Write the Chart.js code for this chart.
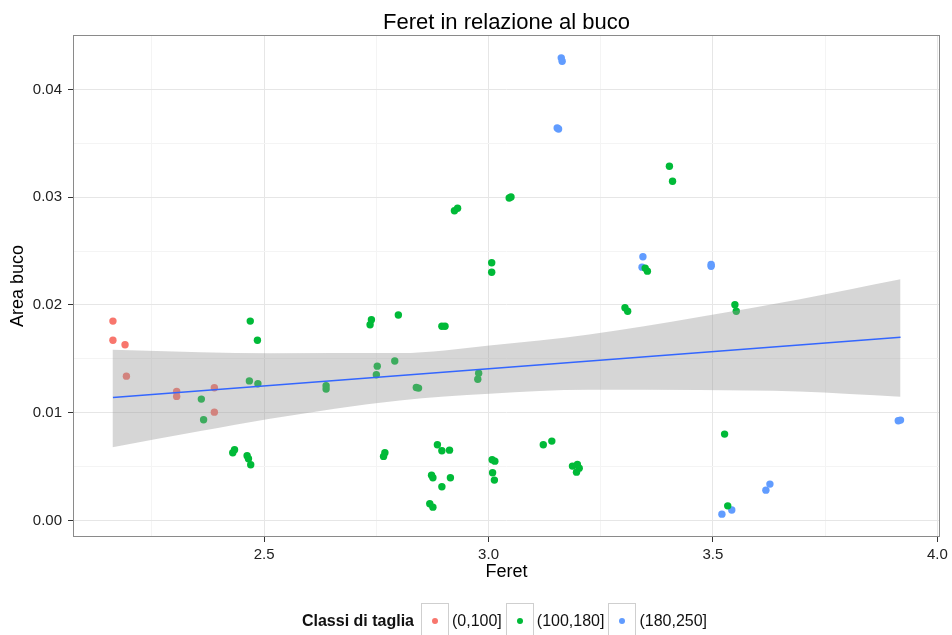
<!DOCTYPE html>
<html>
<head>
<meta charset="utf-8">
<title>Feret in relazione al buco</title>
<script src="https://cdn.jsdelivr.net/npm/chart.js@4.4.1/dist/chart.umd.min.js"></script>
<style>
  body { margin: 0; background: #fff; font-family: "Liberation Sans", Arial, sans-serif; }
  #wrap { position: relative; width: 952px; height: 635px; overflow: hidden; }
  #legend {
    position: absolute; left: 73px; width: 867px; top: 603px;
    display: flex; justify-content: center; align-items: center;
    font-size: 16px; color: #111;
  }
  #legend .title { font-weight: bold; margin-right: 7px; }
  #legend .key {
    width: 26px; height: 34px; border: 1px solid #cfcfcf; box-sizing: content-box;
    display: flex; align-items: center; justify-content: center;
  }
  #legend .dot { width: 6px; height: 6px; border-radius: 50%; }
  #legend .label { margin-left: 3px; margin-right: 4px; }
</style>
</head>
<body>
<div id="wrap">
  <canvas id="chart"></canvas>
  <div id="legend"></div>
</div>
<script>
// size classes and their colours
const sizeClasses = ["(0,100]", "(100,180]", "(180,250]"];
const classColors = ["#F8766D", "#00BA38", "#619CFF"];

// (0,100]
const redX = [2.163, 2.163, 2.190, 2.193, 2.305, 2.305, 2.389, 2.389];
const redY = [0.01850, 0.01673, 0.01631, 0.01339, 0.01197, 0.01151, 0.01232, 0.01005];

// (100,180]
const greenX = [
  2.360, 2.365, 2.430, 2.434, 2.462, 2.465, 2.470, 2.467, 2.486, 2.469, 2.485,
  2.638, 2.638, 2.736, 2.739, 2.750, 2.752, 2.766, 2.769, 2.791, 2.799,
  2.839, 2.844, 2.869, 2.876, 2.873, 2.876, 2.886, 2.896, 2.913, 2.896, 2.915,
  2.896, 2.903, 2.924, 2.931, 2.976, 2.978, 3.007, 3.007, 3.008, 3.014, 3.009, 3.013,
  3.046, 3.050, 3.122, 3.141, 3.187, 3.198, 3.202, 3.196,
  3.304, 3.310, 3.349, 3.354, 3.403, 3.410, 3.526, 3.533, 3.549, 3.552
];
const greenY = [
  0.01126, 0.00935, 0.00628, 0.00656, 0.00600, 0.00573, 0.00517, 0.01295, 0.01269, 0.01850, 0.01673,
  0.01250, 0.01219, 0.01816, 0.01863, 0.01352, 0.01432, 0.00594, 0.00628, 0.01480, 0.01907,
  0.01234, 0.01228, 0.00155, 0.00123, 0.00420, 0.00396, 0.00703, 0.00647, 0.00652, 0.00313, 0.00396,
  0.01803, 0.01803, 0.02874, 0.02898, 0.01311, 0.01367, 0.02392, 0.02304, 0.00563, 0.00550, 0.00443, 0.00374,
  0.02993, 0.03002, 0.00703, 0.00736, 0.00504, 0.00520, 0.00485, 0.00448,
  0.01974, 0.01942, 0.02342, 0.02314, 0.03288, 0.03149, 0.00801, 0.00135, 0.02002, 0.01942
];

// (180,250]
const blueX = [3.162, 3.164, 3.153, 3.156, 3.344, 3.342, 3.496, 3.496, 3.520, 3.542, 3.618, 3.627, 3.913, 3.918];
const blueY = [0.04294, 0.04263, 0.03643, 0.03633, 0.02447, 0.02351, 0.02376, 0.02360, 0.00058, 0.00096, 0.00281, 0.00337, 0.00925, 0.00931];

// linear fit and its confidence band
const fitX = [2.163, 3.918];
const fitY = [0.01140, 0.01701];
const bandX = [2.162, 2.358, 2.513, 2.802, 3.002, 3.224, 3.469, 3.691, 3.918];
const bandUpper = [0.01584, 0.01562, 0.01552, 0.01553, 0.01624, 0.01726, 0.01889, 0.02051, 0.02239];
const bandLower = [0.00680, 0.00829, 0.00944, 0.01114, 0.01176, 0.01213, 0.01211, 0.01197, 0.01148];

// axis ticks (major + minor)
const xTicks = [2.25, 2.5, 2.75, 3.0, 3.25, 3.5, 3.75, 4.0];
const yTicks = [0, 0.005, 0.01, 0.015, 0.02, 0.025, 0.03, 0.035, 0.04];

const font = "'Liberation Sans', Arial, sans-serif";
const toPoints = (xs, ys) => xs.map((x, i) => ({ x: x, y: ys[i] }));
const isMajorX = (v) => Math.abs(v * 2 - Math.round(v * 2)) < 1e-6;
const isMajorY = (v) => Math.abs(v * 100 - Math.round(v * 100)) < 1e-6;

// frame around the panel, like ggplot's theme_bw
const panelBorder = {
  id: "panelBorder",
  afterDraw(chart) {
    const { ctx, chartArea: a } = chart;
    ctx.save();
    ctx.strokeStyle = "#8a8a8a";
    ctx.lineWidth = 1;
    ctx.strokeRect(a.left + 0.5, a.top + 0.5, a.right - a.left - 1, a.bottom - a.top - 1);
    ctx.restore();
  },
};

const pointSet = (xs, ys, i) => ({
  label: sizeClasses[i],
  data: toPoints(xs, ys),
  backgroundColor: classColors[i],
  borderWidth: 0,
  pointRadius: 3.7,
  order: 3,
});

const ctx = document.getElementById("chart").getContext("2d");
new Chart(ctx, {
  type: "scatter",
  data: {
    datasets: [
      pointSet(redX, redY, 0),
      pointSet(greenX, greenY, 1),
      pointSet(blueX, blueY, 2),
      {
        label: "band upper",
        data: toPoints(bandX, bandUpper),
        showLine: true,
        pointRadius: 0,
        borderWidth: 0,
        borderColor: "rgba(0,0,0,0)",
        backgroundColor: "rgba(153,153,153,0.4)",
        fill: "+1",
        cubicInterpolationMode: "monotone",
        order: 2,
      },
      {
        label: "band lower",
        data: toPoints(bandX, bandLower),
        showLine: true,
        pointRadius: 0,
        borderWidth: 0,
        borderColor: "rgba(0,0,0,0)",
        fill: false,
        cubicInterpolationMode: "monotone",
        order: 2,
      },
      {
        label: "fit",
        data: toPoints(fitX, fitY),
        showLine: true,
        pointRadius: 0,
        borderColor: "#3366FF",
        borderWidth: 1.5,
        fill: false,
        order: 1,
      },
    ],
  },
  options: {
    responsive: true,
    maintainAspectRatio: false,
    animation: false,
    events: [],
    layout: { padding: { left: 0, right: 12, top: 0, bottom: 48 } },
    plugins: {
      legend: { display: false },
      tooltip: { enabled: false },
      title: {
        display: true,
        text: "Feret in relazione al buco",
        fullSize: false,
        color: "#000",
        font: { family: font, size: 22, weight: "normal", lineHeight: 1 },
        padding: { top: 12, bottom: 1 },
      },
    },
    scales: {
      x: {
        type: "linear",
        min: 2.074,
        max: 4.006,
        afterBuildTicks: (s) => { s.ticks = xTicks.map((v) => ({ value: v })); },
        afterFit: (s) => { s.height = 50; },
        border: { display: false },
        grid: {
          color: (c) => (isMajorX(c.tick.value) ? "#e6e6e6" : "#f4f4f4"),
          tickColor: (c) => (isMajorX(c.tick.value) ? "#333" : "rgba(0,0,0,0)"),
          tickLength: 5,
        },
        ticks: {
          autoSkip: false,
          maxRotation: 0,
          padding: 4,
          color: "#222",
          font: { family: font, size: 15 },
          callback: (v) => (isMajorX(v) ? v.toFixed(1) : ""),
        },
        title: {
          display: true,
          text: "Feret",
          color: "#000",
          font: { family: font, size: 18 },
          padding: { top: 0, bottom: 4 },
        },
      },
      y: {
        type: "linear",
        min: -0.00154,
        max: 0.04506,
        afterBuildTicks: (s) => { s.ticks = yTicks.map((v) => ({ value: v })); },
        afterFit: (s) => { s.width = 73; },
        border: { display: false },
        grid: {
          color: (c) => (isMajorY(c.tick.value) ? "#e6e6e6" : "#f4f4f4"),
          tickColor: (c) => (isMajorY(c.tick.value) ? "#333" : "rgba(0,0,0,0)"),
          tickLength: 5,
        },
        ticks: {
          autoSkip: false,
          padding: 6,
          color: "#222",
          font: { family: font, size: 15 },
          callback: (v) => (isMajorY(v) ? v.toFixed(2) : ""),
        },
        title: {
          display: true,
          text: "Area buco",
          color: "#000",
          font: { family: font, size: 18 },
          padding: { top: 7, bottom: 0 },
        },
      },
    },
  },
  plugins: [panelBorder],
});

// legend below the panel
const legend = document.getElementById("legend");
let html = '<span class="title">Classi di taglia</span>';
sizeClasses.forEach((name, i) => {
  html += '<span class="key"><span class="dot" style="background:' + classColors[i] + '"></span></span>';
  html += '<span class="label">' + name + "</span>";
});
legend.innerHTML = html;
</script>
</body>
</html>
